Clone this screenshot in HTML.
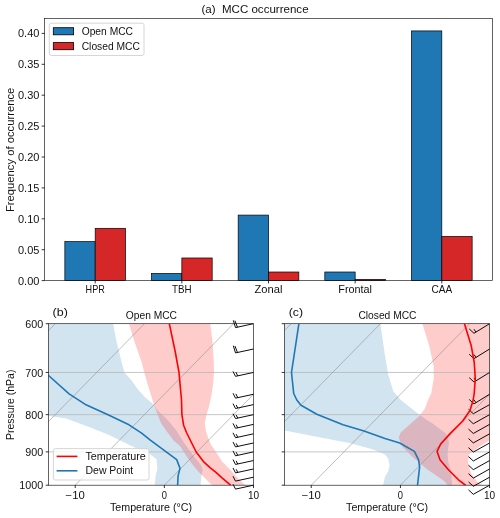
<!DOCTYPE html>
<html lang="en"><head><meta charset="utf-8"><title>MCC occurrence</title>
<style>
html,body{margin:0;padding:0;background:#fff;}
svg{display:block;font-family:"Liberation Sans",sans-serif;fill:#000;}
text{fill:#111;stroke:none;}
svg{will-change:transform;}
</style></head><body>
<svg width="500" height="518" viewBox="0 0 500 518">
<rect width="500" height="518" fill="#fff"/>
<g stroke="#000" stroke-width="0.7">
<rect x="64.86" y="241.60" width="30.33" height="39.00" fill="#1f77b4"/>
<rect x="95.19" y="228.32" width="30.33" height="52.28" fill="#d62728"/>
<rect x="151.52" y="273.49" width="30.33" height="7.11" fill="#1f77b4"/>
<rect x="181.85" y="257.98" width="30.33" height="22.62" fill="#d62728"/>
<rect x="238.17" y="215.09" width="30.33" height="65.51" fill="#1f77b4"/>
<rect x="268.50" y="272.01" width="30.33" height="8.59" fill="#d62728"/>
<rect x="324.82" y="272.01" width="30.33" height="8.59" fill="#1f77b4"/>
<rect x="355.15" y="279.36" width="30.33" height="1.24" fill="#d62728"/>
<rect x="411.48" y="30.93" width="30.33" height="249.67" fill="#1f77b4"/>
<rect x="441.81" y="236.47" width="30.33" height="44.13" fill="#d62728"/>
</g>
<rect x="44.5" y="18.5" width="448.0" height="262.1" fill="none" stroke="#111" stroke-width="0.65"/>
<g stroke="#000" stroke-width="0.8">
<line x1="41.7" y1="280.60" x2="44.5" y2="280.60"/>
<line x1="41.7" y1="249.70" x2="44.5" y2="249.70"/>
<line x1="41.7" y1="218.80" x2="44.5" y2="218.80"/>
<line x1="41.7" y1="187.90" x2="44.5" y2="187.90"/>
<line x1="41.7" y1="157.00" x2="44.5" y2="157.00"/>
<line x1="41.7" y1="126.10" x2="44.5" y2="126.10"/>
<line x1="41.7" y1="95.20" x2="44.5" y2="95.20"/>
<line x1="41.7" y1="64.30" x2="44.5" y2="64.30"/>
<line x1="41.7" y1="33.40" x2="44.5" y2="33.40"/>
<line x1="95.19" y1="280.6" x2="95.19" y2="283.40000000000003"/>
<line x1="181.85" y1="280.6" x2="181.85" y2="283.40000000000003"/>
<line x1="268.50" y1="280.6" x2="268.50" y2="283.40000000000003"/>
<line x1="355.15" y1="280.6" x2="355.15" y2="283.40000000000003"/>
<line x1="441.81" y1="280.6" x2="441.81" y2="283.40000000000003"/>
</g>
<text x="18.00" y="284.50" font-size="10.3" textLength="21.40" lengthAdjust="spacingAndGlyphs" >0.00</text>
<text x="18.00" y="253.60" font-size="10.3" textLength="21.40" lengthAdjust="spacingAndGlyphs" >0.05</text>
<text x="18.00" y="222.70" font-size="10.3" textLength="21.40" lengthAdjust="spacingAndGlyphs" >0.10</text>
<text x="18.00" y="191.80" font-size="10.3" textLength="21.40" lengthAdjust="spacingAndGlyphs" >0.15</text>
<text x="18.00" y="160.90" font-size="10.3" textLength="21.40" lengthAdjust="spacingAndGlyphs" >0.20</text>
<text x="18.00" y="130.00" font-size="10.3" textLength="21.40" lengthAdjust="spacingAndGlyphs" >0.25</text>
<text x="18.00" y="99.10" font-size="10.3" textLength="21.40" lengthAdjust="spacingAndGlyphs" >0.30</text>
<text x="18.00" y="68.20" font-size="10.3" textLength="21.40" lengthAdjust="spacingAndGlyphs" >0.35</text>
<text x="18.00" y="37.30" font-size="10.3" textLength="21.40" lengthAdjust="spacingAndGlyphs" >0.40</text>
<text x="85.59" y="293.40" font-size="10.3" textLength="19.20" lengthAdjust="spacingAndGlyphs" >HPR</text>
<text x="172.05" y="293.40" font-size="10.3" textLength="19.60" lengthAdjust="spacingAndGlyphs" >TBH</text>
<text x="254.50" y="293.40" font-size="10.3" textLength="28.00" lengthAdjust="spacingAndGlyphs" >Zonal</text>
<text x="338.25" y="293.40" font-size="10.3" textLength="33.80" lengthAdjust="spacingAndGlyphs" >Frontal</text>
<text x="431.41" y="293.40" font-size="10.3" textLength="20.80" lengthAdjust="spacingAndGlyphs" >CAA</text>
<text transform="translate(13.50,212.00) rotate(-90)" x="0" y="0" font-size="10.3" textLength="124.30" lengthAdjust="spacingAndGlyphs">Frequency of occurrence</text>
<text x="201.40" y="13.20" font-size="10.9" textLength="107.20" lengthAdjust="spacingAndGlyphs" style="white-space:pre">(a)  MCC occurrence</text>
<rect x="49.3" y="23.2" width="94.7" height="32.3" rx="2" ry="2" fill="#fff" fill-opacity="0.8" stroke="#ccc" stroke-width="0.8"/>
<rect x="53.3" y="27.7" width="20.3" height="7.1" fill="#1f77b4" stroke="#000" stroke-width="0.8"/>
<rect x="53.3" y="42.6" width="20.3" height="7.1" fill="#d62728" stroke="#000" stroke-width="0.8"/>
<text x="81.70" y="35.00" font-size="10.3" textLength="51.30" lengthAdjust="spacingAndGlyphs" >Open MCC</text>
<text x="81.70" y="49.90" font-size="10.3" textLength="58.30" lengthAdjust="spacingAndGlyphs" >Closed MCC</text>
<clipPath id="cb"><rect x="48.5" y="323.7" width="205.0" height="161.5"/></clipPath>
<g clip-path="url(#cb)">
<polygon points="113.2,323.7 116.4,341.0 121.6,362.0 124.4,372.5 131.0,379.8 138.0,389.6 145.0,397.3 154.1,405.0 157.6,410.6 166.0,418.3 171.6,424.6 176.7,431.0 184.0,442.7 193.2,455.5 201.4,465.6 202.7,470.2 201.4,475.7 200.5,485.2 154.7,485.2 155.6,475.7 157.4,468.4 156.5,459.2 150.0,454.0 137.4,448.7 129.0,444.7 108.0,434.6 87.0,426.2 66.0,418.5 48.0,415.7 40.0,414.0 40.0,323.7" fill="#1f77b4" fill-opacity="0.2"/>
<polygon points="129.0,323.7 134.2,341.0 141.6,362.0 144.3,372.5 147.1,382.6 150.6,393.8 154.1,405.0 157.6,414.8 161.1,423.2 167.5,432.5 174.0,441.0 180.0,446.0 186.0,455.6 192.0,464.0 198.0,471.2 201.6,474.8 207.0,480.2 212.4,485.4 245.5,485.2 240.3,480.8 229.8,469.3 222.0,461.6 216.0,452.0 211.2,445.0 208.3,438.3 206.0,431.4 204.8,423.2 206.6,414.5 208.9,407.0 211.2,396.6 213.0,385.0 214.0,372.5 213.8,362.0 212.4,341.0 210.3,323.7" fill="#ff0000" fill-opacity="0.2"/>
<g stroke="#b8b8b8" stroke-width="0.8">
<line x1="48.5" y1="372.44" x2="253.5" y2="372.44"/>
<line x1="48.5" y1="414.65" x2="253.5" y2="414.65"/>
<line x1="48.5" y1="451.89" x2="253.5" y2="451.89"/>
</g>
<g stroke="#888" stroke-width="0.65" stroke-opacity="0.85">
<line x1="-192.15" y1="485.2" x2="-33.82" y2="323.7"/>
<line x1="-103.02" y1="485.2" x2="55.31" y2="323.7"/>
<line x1="-13.89" y1="485.2" x2="144.44" y2="323.7"/>
<line x1="75.24" y1="485.2" x2="233.57" y2="323.7"/>
<line x1="164.37" y1="485.2" x2="322.70" y2="323.7"/>
<line x1="253.50" y1="485.2" x2="411.83" y2="323.7"/>
</g>
</g>
<path d="M253.50,323.70L235.50,327.60M235.50,327.60l-2.20,-7.20M237.45,327.18l-2.50,-6.50M253.50,349.01L235.50,352.91M235.50,352.91l-2.20,-7.20M237.45,352.48l-2.50,-6.50M253.50,372.44L235.50,376.34M235.50,376.34l-2.50,-4.90M237.75,375.85l-1.90,-3.80M253.50,394.25L235.50,398.15M235.50,398.15l-2.50,-4.90M237.75,397.66l-1.90,-3.80M253.50,404.61L235.50,408.51M235.50,408.51l-2.50,-4.90M237.75,408.03l-1.60,-3.10M253.50,414.65L235.50,418.55M235.50,418.55l-2.50,-4.90M237.75,418.07l-1.60,-3.10M253.50,424.38L235.50,428.28M235.50,428.28l-2.50,-4.90M237.75,427.79l-1.60,-3.10M253.50,433.82L235.50,437.72M235.50,437.72l-2.50,-4.90M237.75,437.23l-1.60,-3.10M253.50,442.98L235.50,446.88M235.50,446.88l-2.50,-4.90M237.75,446.40l-1.60,-3.10M253.50,451.89L235.50,455.79M235.50,455.79l-2.50,-4.90M237.75,455.30l-1.60,-3.10M253.50,460.55L235.50,464.45M235.50,464.45l-2.50,-4.90M237.75,463.97l-1.60,-3.10M253.50,468.98L235.50,472.88M235.50,472.88l-2.50,-4.90M237.75,472.40l-1.60,-3.10M253.50,477.20L235.50,481.10M235.50,481.10l-2.50,-4.90M253.50,485.20L235.50,489.10M235.50,489.10l-2.50,-4.90" fill="none" stroke="#000" stroke-width="0.95" stroke-linejoin="miter"/>
<g clip-path="url(#cb)" fill="none" stroke-linejoin="round">
<polyline points="48.0,375.0 69.1,393.9 84.9,404.2 108.0,414.7 129.0,424.8 141.6,433.2 150.0,439.9 176.7,459.6 180.0,468.4 178.1,475.7 177.6,485.2" stroke="#1f77b4" stroke-width="1.6"/>
<polyline points="169.3,323.6 175.2,351.5 179.0,372.5 181.5,400.0 181.9,414.7 183.6,425.2 186.5,432.5 190.2,440.0 196.2,452.0 204.0,462.2 210.0,467.6 216.0,472.4 222.0,477.8 230.6,485.2" stroke="#ff0000" stroke-width="1.6"/>
</g>
<rect x="48.5" y="323.7" width="205.0" height="161.5" fill="none" stroke="#111" stroke-width="0.65"/>
<g stroke="#000" stroke-width="0.8">
<line x1="45.7" y1="323.70" x2="48.5" y2="323.70"/>
<line x1="45.7" y1="372.44" x2="48.5" y2="372.44"/>
<line x1="45.7" y1="414.65" x2="48.5" y2="414.65"/>
<line x1="45.7" y1="451.89" x2="48.5" y2="451.89"/>
<line x1="45.7" y1="485.20" x2="48.5" y2="485.20"/>
<line x1="75.24" y1="485.2" x2="75.24" y2="488.0"/>
<line x1="164.37" y1="485.2" x2="164.37" y2="488.0"/>
<line x1="253.50" y1="485.2" x2="253.50" y2="488.0"/>
</g>
<text x="65.64" y="498.90" font-size="10" textLength="19.20" lengthAdjust="spacingAndGlyphs" >−10</text>
<text x="161.77" y="498.90" font-size="10" textLength="5.20" lengthAdjust="spacingAndGlyphs" >0</text>
<text x="247.90" y="498.90" font-size="10" textLength="11.20" lengthAdjust="spacingAndGlyphs" >10</text>
<text x="110.00" y="510.80" font-size="10" textLength="82.00" lengthAdjust="spacingAndGlyphs" >Temperature (°C)</text>
<text x="125.80" y="319.20" font-size="10" textLength="51.20" lengthAdjust="spacingAndGlyphs" >Open MCC</text>
<text x="52.60" y="315.60" font-size="11" textLength="15.20" lengthAdjust="spacingAndGlyphs" >(b)</text>
<text x="25.30" y="327.90" font-size="10" textLength="17.90" lengthAdjust="spacingAndGlyphs" >600</text>
<text x="25.30" y="376.64" font-size="10" textLength="17.90" lengthAdjust="spacingAndGlyphs" >700</text>
<text x="25.30" y="418.85" font-size="10" textLength="17.90" lengthAdjust="spacingAndGlyphs" >800</text>
<text x="25.30" y="456.09" font-size="10" textLength="17.90" lengthAdjust="spacingAndGlyphs" >900</text>
<text x="19.30" y="489.40" font-size="10" textLength="23.90" lengthAdjust="spacingAndGlyphs" >1000</text>
<text transform="translate(13.60,440.00) rotate(-90)" x="0" y="0" font-size="10" textLength="70.40" lengthAdjust="spacingAndGlyphs">Pressure (hPa)</text>
<rect x="53.4" y="448.6" width="95.6" height="31.4" rx="2" ry="2" fill="#fff" fill-opacity="0.8" stroke="#ccc" stroke-width="0.8"/>
<line x1="56.6" y1="456.4" x2="77.4" y2="456.4" stroke="#ff0000" stroke-width="1.6"/>
<line x1="56.6" y1="470.8" x2="77.4" y2="470.8" stroke="#1f77b4" stroke-width="1.6"/>
<text x="85.50" y="460.00" font-size="10" textLength="60.30" lengthAdjust="spacingAndGlyphs" >Temperature</text>
<text x="85.50" y="474.40" font-size="10" textLength="47.70" lengthAdjust="spacingAndGlyphs" >Dew Point</text>
<clipPath id="cc"><rect x="284.5" y="323.7" width="205.10000000000002" height="161.5"/></clipPath>
<g clip-path="url(#cc)">
<polygon points="380.4,323.7 385.0,355.7 388.2,374.6 393.4,391.4 400.8,400.0 420.7,415.7 433.3,424.1 445.9,433.6 449.0,442.0 447.6,452.5 448.0,460.9 451.1,471.4 452.2,485.5 383.0,485.5 385.0,476.7 388.2,471.4 389.6,465.1 388.2,458.8 385.0,454.6 372.4,449.3 349.3,443.0 322.0,437.8 284.6,430.4 270.0,428.0 270.0,323.7" fill="#1f77b4" fill-opacity="0.2"/>
<polygon points="422.4,323.7 429.1,345.2 433.7,366.2 433.7,378.8 431.2,393.5 428.0,400.0 424.9,408.4 419.6,415.7 410.2,424.1 400.7,432.5 398.6,437.8 402.8,447.2 412.3,456.7 427.0,469.3 443.8,480.8 448.0,485.5 482.6,485.5 477.4,481.9 471.1,473.5 468.0,463.0 469.0,454.6 477.4,448.3 490.0,439.9 500.0,435.0 500.0,323.7" fill="#ff0000" fill-opacity="0.2"/>
<g stroke="#b8b8b8" stroke-width="0.8">
<line x1="284.5" y1="372.44" x2="489.6" y2="372.44"/>
<line x1="284.5" y1="414.65" x2="489.6" y2="414.65"/>
<line x1="284.5" y1="451.89" x2="489.6" y2="451.89"/>
</g>
<g stroke="#888" stroke-width="0.65" stroke-opacity="0.85">
<line x1="43.73" y1="485.2" x2="202.06" y2="323.7"/>
<line x1="132.90" y1="485.2" x2="291.24" y2="323.7"/>
<line x1="222.08" y1="485.2" x2="380.41" y2="323.7"/>
<line x1="311.25" y1="485.2" x2="469.59" y2="323.7"/>
<line x1="400.43" y1="485.2" x2="558.76" y2="323.7"/>
<line x1="489.60" y1="485.2" x2="647.93" y2="323.7"/>
</g>
</g>
<path d="M489.60,323.70L474.00,333.30M474.00,333.30l-4.80,-4.40M475.96,332.09l-2.00,-2.90M489.60,349.01L474.00,358.61M474.00,358.61l-4.80,-4.40M475.96,357.40l-2.00,-2.90M489.60,372.44L474.00,382.04M474.00,382.04l-4.80,-4.40M475.96,380.83l-2.00,-2.90M489.60,394.25L474.00,403.85M474.00,403.85l-4.80,-4.40M475.96,402.64l-2.00,-2.90M489.60,404.61L473.30,413.71M473.30,413.71l-4.80,-4.40M489.60,414.65L473.30,423.75M473.30,423.75l-4.80,-4.40M489.60,424.38L473.30,433.48M473.30,433.48l-4.80,-4.40M489.60,433.82L473.30,442.92M473.30,442.92l-4.80,-4.40M489.60,442.98L473.30,452.08M473.30,452.08l-4.80,-4.40M489.60,451.89L473.30,460.99M473.30,460.99l-4.80,-4.40M489.60,460.55L473.30,469.65M473.30,469.65l-4.80,-4.40M489.60,468.98L473.30,478.08M473.30,478.08l-4.80,-4.40M489.60,477.20L473.30,486.30M473.30,486.30l-4.80,-4.40M489.60,485.20L473.30,494.30M473.30,494.30l-4.80,-4.40" fill="none" stroke="#000" stroke-width="0.95" stroke-linejoin="miter"/>
<g clip-path="url(#cc)" fill="none" stroke-linejoin="round">
<polyline points="298.9,323.6 291.5,372.5 293.7,393.5 296.8,400.0 301.0,405.3 316.8,414.3 343.0,424.8 364.0,431.1 385.0,438.4 399.7,443.0 414.4,451.4 418.6,459.8 419.6,467.2 417.5,485.5" stroke="#1f77b4" stroke-width="1.6"/>
<polyline points="464.4,323.6 471.1,345.2 474.2,362.0 475.3,378.8 474.2,393.5 473.2,400.0 470.0,410.5 462.7,421.0 450.1,433.6 440.6,444.1 437.1,451.4 440.0,459.8 448.0,469.3 458.5,479.8 465.8,485.5" stroke="#ff0000" stroke-width="1.6"/>
</g>
<rect x="284.5" y="323.7" width="205.10000000000002" height="161.5" fill="none" stroke="#111" stroke-width="0.65"/>
<g stroke="#000" stroke-width="0.8">
<line x1="281.7" y1="323.70" x2="284.5" y2="323.70"/>
<line x1="281.7" y1="372.44" x2="284.5" y2="372.44"/>
<line x1="281.7" y1="414.65" x2="284.5" y2="414.65"/>
<line x1="281.7" y1="451.89" x2="284.5" y2="451.89"/>
<line x1="281.7" y1="485.20" x2="284.5" y2="485.20"/>
<line x1="311.25" y1="485.2" x2="311.25" y2="488.0"/>
<line x1="400.43" y1="485.2" x2="400.43" y2="488.0"/>
<line x1="489.60" y1="485.2" x2="489.60" y2="488.0"/>
</g>
<text x="301.65" y="498.90" font-size="10" textLength="19.20" lengthAdjust="spacingAndGlyphs" >−10</text>
<text x="397.83" y="498.90" font-size="10" textLength="5.20" lengthAdjust="spacingAndGlyphs" >0</text>
<text x="484.00" y="498.90" font-size="10" textLength="11.20" lengthAdjust="spacingAndGlyphs" >10</text>
<text x="346.05" y="510.80" font-size="10" textLength="82.00" lengthAdjust="spacingAndGlyphs" >Temperature (°C)</text>
<text x="358.40" y="319.20" font-size="10" textLength="58.10" lengthAdjust="spacingAndGlyphs" >Closed MCC</text>
<text x="288.70" y="315.60" font-size="11" textLength="14.30" lengthAdjust="spacingAndGlyphs" >(c)</text>
</svg>
</body></html>
